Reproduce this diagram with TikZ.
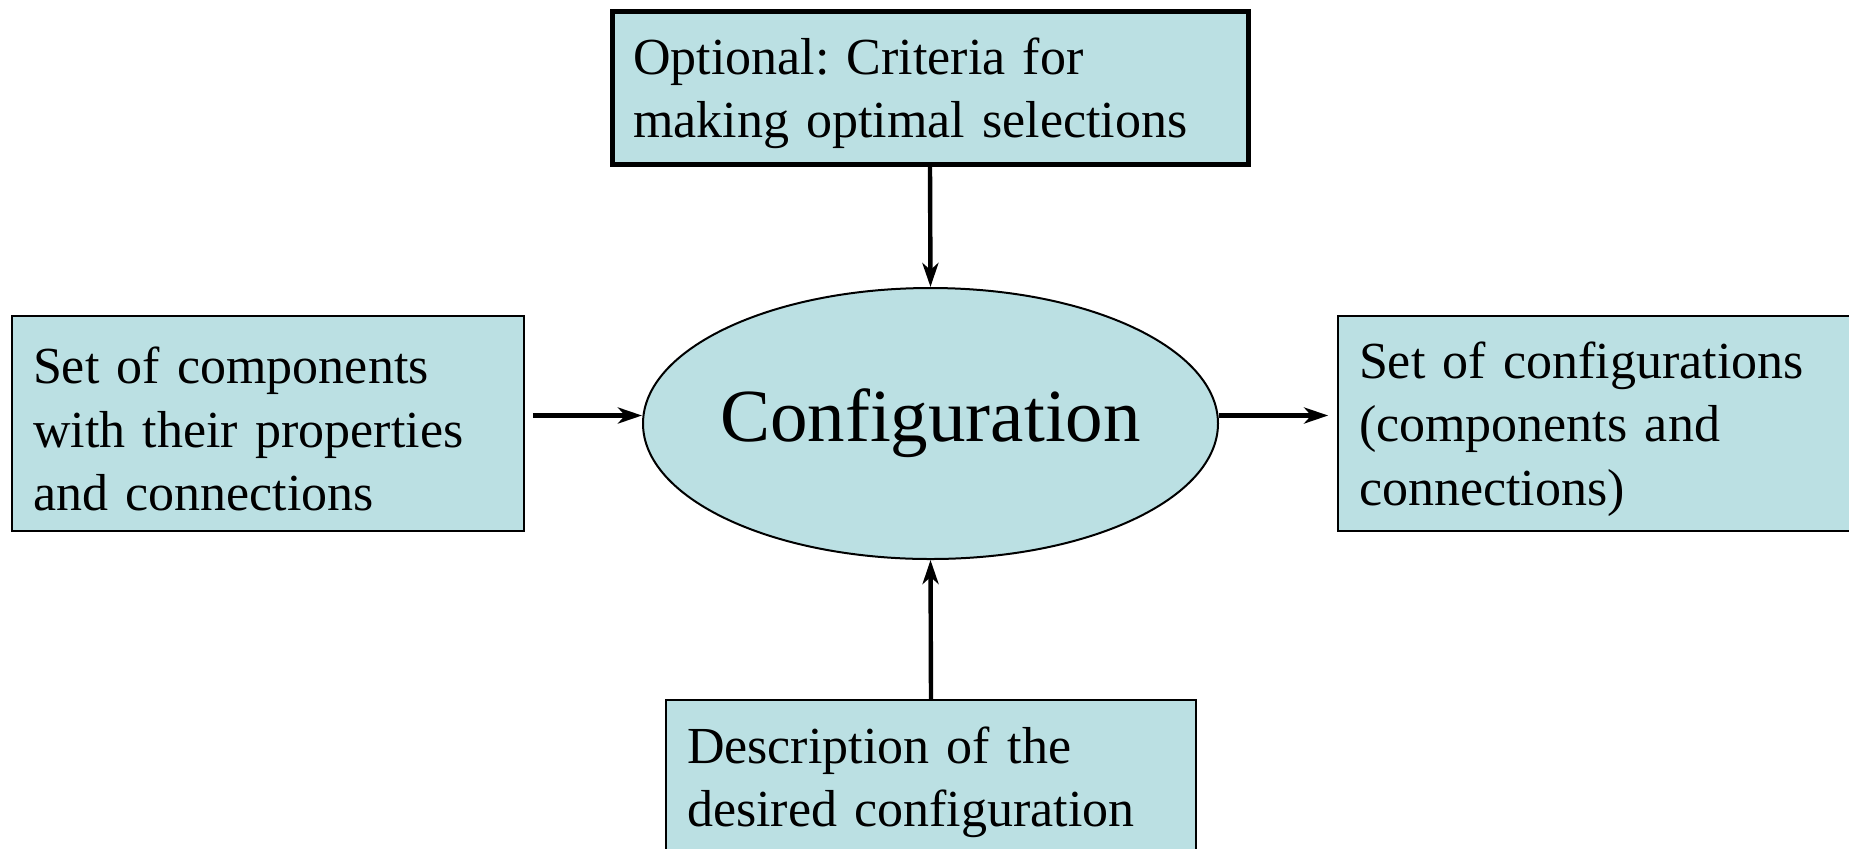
\documentclass[tikz,border=0pt]{standalone}
\usepackage{fontspec}
\setmainfont{Liberation Serif}[Ligatures=CommonOff]
\usepackage{tikz}
\usetikzlibrary{shapes.geometric,arrows.meta,positioning}

\definecolor{boxfill}{HTML}{BBE0E3}
\frenchspacing

\begin{document}
\begin{tikzpicture}[x=0.5pt, y=-0.5pt,
	box/.style={draw, fill=boxfill, line width=0.85pt, rectangle, align=left,
		inner xsep=10.5pt, inner ysep=0pt,
		font=\fontsize{26}{31.8}\selectfont,
		execute at begin node={\rule{0pt}{24pt}}},
	flow/.style={-{Stealth[length=12pt, width=8pt, inset=3.5pt]}, line width=2.2pt}]

	% ---- frame

	\useasboundingbox (0,0) rectangle (1849,848);

	% ---- central process

	\node[ellipse, draw, fill=boxfill, line width=1pt, inner xsep=-5pt, inner ysep=0pt,
		minimum width=287.5pt, minimum height=135.5pt,
		font=\fontsize{37.5}{44}\selectfont] (conf) at (930.5,423.5) {Configuration};

	% ---- inputs and output

	\node[box, line width=2.5pt, text width=297pt, minimum height=76.5pt]
		(crit) at (930,87.5) {Optional: Criteria for\\making optimal selections};

	\node[box, text width=235pt, minimum height=107.5pt]
		(comp) at (268,423.5) {Set of components\\with their properties\\and connections};

	\node[box, text width=239pt, minimum height=107.5pt]
		(result) at (1598,423.5) {Set of configurations\\(components and\\connections)};

	\node[box, text width=244pt, minimum height=76.5pt]
		(desc) at (931,776.5) {Description of the\\desired configuration};

	% ---- arrows

	\draw[flow] (crit.south) -- (conf.north);
	\draw[flow] (desc.north) -- (conf.south);
	\draw[flow] ([xshift=4pt, yshift=4pt]comp.east) -- ([yshift=4pt]conf.west);
	\draw[flow] ([yshift=4pt]conf.east) -- ([xshift=-4.5pt, yshift=4pt]result.west);

\end{tikzpicture}
\end{document}
